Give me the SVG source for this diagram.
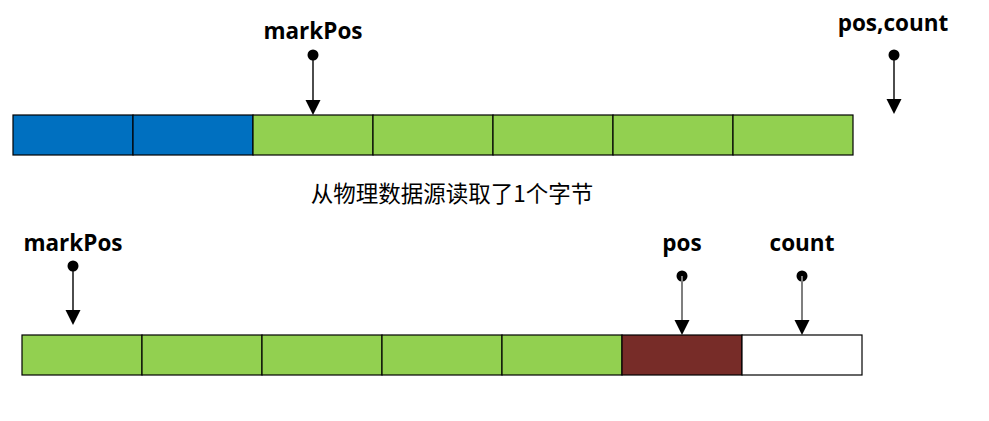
<svg xmlns="http://www.w3.org/2000/svg" width="989" height="421" viewBox="0 0 989 421">
<style>
.cell{stroke:#000;stroke-width:1.2}
.blue{fill:#0070C0}
.green{fill:#92D050}
.brown{fill:#772C28}
.white{fill:#fff}
.lbl{font-family:"Open Sans","Noto Sans",sans-serif;font-weight:bold;font-size:22.5px;fill:#000;text-anchor:middle}
.cn{font-family:"Noto Sans CJK SC",sans-serif;font-size:22.5px;fill:#000;text-anchor:middle}
.ptr{stroke:#000;stroke-width:1.4;fill:none}
.ptrg{stroke:#7f7f7f;stroke-width:2;fill:none}
</style>
<g id="top-buffer">
<rect class="cell blue" x="13" y="115" width="120" height="40"/>
<rect class="cell blue" x="133" y="115" width="120" height="40"/>
<rect class="cell green" x="253" y="115" width="120" height="40"/>
<rect class="cell green" x="373" y="115" width="120" height="40"/>
<rect class="cell green" x="493" y="115" width="120" height="40"/>
<rect class="cell green" x="613" y="115" width="120" height="40"/>
<rect class="cell green" x="733" y="115" width="120" height="40"/>
</g>
<g id="bottom-buffer">
<rect class="cell green" x="22" y="335" width="120" height="40"/>
<rect class="cell green" x="142" y="335" width="120" height="40"/>
<rect class="cell green" x="262" y="335" width="120" height="40"/>
<rect class="cell green" x="382" y="335" width="120" height="40"/>
<rect class="cell green" x="502" y="335" width="120" height="40"/>
<rect class="cell brown" x="622" y="335" width="120" height="40"/>
<rect class="cell white" x="742" y="335" width="120" height="40"/>
</g>
<g id="labels">
<text class="lbl" x="313" y="39">markPos</text>
<text class="lbl" x="893" y="31">pos,count</text>
<text class="lbl" x="73" y="251">markPos</text>
<text class="lbl" x="682" y="251">pos</text>
<text class="lbl" x="802" y="251">count</text>
<text class="cn" x="452" y="202">从物理数据源读取了1个字节</text>
</g>
<g id="connectors">
<circle cx="313" cy="55" r="5.5"/>
<line class="ptr" x1="313" y1="55" x2="313" y2="102"/>
<path d="M305.5,100 L320.5,100 L313,115 Z"/>
<circle cx="894" cy="55" r="5.5"/>
<line class="ptr" x1="894" y1="55" x2="894" y2="101"/>
<path d="M886.5,99 L901.5,99 L894,114 Z"/>
<circle cx="73" cy="266" r="5.5"/>
<line class="ptr" x1="73" y1="266" x2="73" y2="312"/>
<path d="M65.5,310 L80.5,310 L73,325 Z"/>
<circle cx="682" cy="276" r="5.5"/>
<line class="ptrg" x1="682" y1="276" x2="682" y2="322"/>
<path d="M674.5,320 L689.5,320 L682,335 Z"/>
<circle cx="802" cy="276" r="5.5"/>
<line class="ptrg" x1="802" y1="276" x2="802" y2="322"/>
<path d="M794.5,320 L809.5,320 L802,335 Z"/>
</g>
</svg>
